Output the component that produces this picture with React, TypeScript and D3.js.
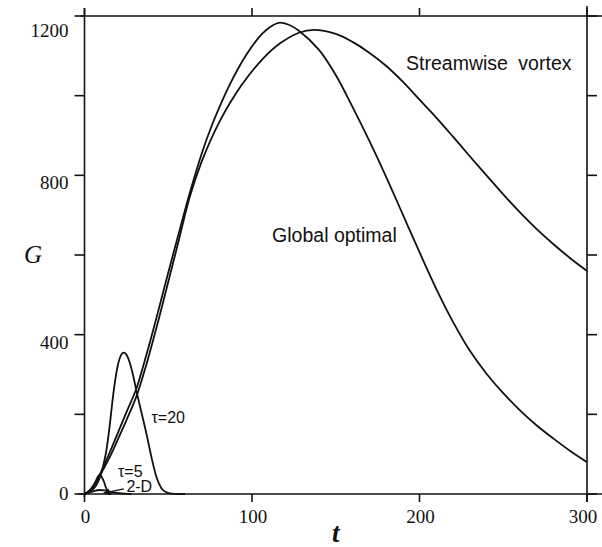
import React from "react";
import * as d3 from "d3";

// ---- data ----
const globalT = [0, 3, 6, 9, 15, 20, 25, 31, 37, 43, 49, 56, 63, 70, 76, 82, 87, 92, 97, 102, 106, 111, 116, 122, 128, 140, 150, 160, 170, 180, 190, 200, 210, 220, 230, 240, 250, 260, 270, 280, 290, 300];
const globalG = [0, 9, 26, 48, 104, 154, 205, 265, 350, 443, 540, 650, 758, 855, 925, 985, 1030, 1070, 1105, 1135, 1155, 1173, 1183, 1178, 1163, 1115, 1052, 972, 887, 797, 702, 607, 515, 432, 360, 302, 253, 210, 172, 139, 108, 80];

const vortexT = [0, 3, 6, 9, 15, 20, 25, 31, 37, 43, 49, 56, 63, 70, 80, 90, 97, 107, 117, 128, 137, 150, 160, 170, 180, 190, 200, 210, 220, 230, 240, 250, 260, 270, 280, 290, 300];
const vortexG = [0, 8, 24, 45, 92, 138, 185, 245, 326, 418, 516, 632, 748, 835, 930, 1003, 1045, 1095, 1132, 1158, 1165, 1155, 1135, 1108, 1075, 1035, 990, 945, 897, 848, 800, 752, 707, 665, 627, 592, 560];

const tau20T = [0, 4, 7, 9, 11, 13, 15, 16.7, 18.5, 20, 22, 23.4, 25, 27, 29, 31, 34, 37, 40, 43, 46, 49, 52, 56, 60];
const tau20G = [0, 8, 22, 40, 68, 108, 170, 234, 290, 325, 350, 355, 350, 330, 298, 259, 205, 151, 92, 42, 14, 4, 1, 0, 0];

const tau5T = [0, 2, 3.5, 5, 6.5, 8, 9, 10, 11.5, 13, 14.5, 16];
const tau5G = [0, 4, 9, 16, 30, 44, 48, 45, 32, 14, 3, 0];

const twoDT = [0, 3, 6, 9, 12, 15, 19, 24, 28];
const twoDG = [0, 4, 8, 10, 9, 6, 3, 1, 0];

const xTicks = [0, 100, 200, 300];
const yTicksMajor = [0, 400, 800, 1200];
const yTicksAll = [0, 200, 400, 600, 800, 1000, 1200];

const labels = [
  { text: "Streamwise vortex", t: 192, g: 1065, size: 19.5 },
  { text: "Global optimal", t: 112, g: 632, size: 19.5 },
  { text: "τ=20", t: 40, g: 178, size: 16 },
  { text: "τ=5", t: 20, g: 42, size: 16 },
  { text: "2-D", t: 25, g: 4, size: 16 },
];

const arrow2D = { t0: 23.5, g0: 13, t1: 11.5, g1: 2 };

const W = 602;
const H = 547;

export default function App() {
  const x = d3.scaleLinear().domain([0, 300]).range([84.5, 587]);
  const y = d3.scaleLinear().domain([0, 1200]).range([494, 16]);

  const mk = (ts: number[], gs: number[], curve: any) =>
    d3
      .line<number>()
      .x((_, i) => x(ts[i]))
      .y((_, i) => y(gs[i]))
      .curve(curve)(ts) || "";

  const series = [
    mk(globalT, globalG, d3.curveCatmullRom.alpha(0.5)),
    mk(vortexT, vortexG, d3.curveCatmullRom.alpha(0.5)),
    mk(tau20T, tau20G, d3.curveMonotoneX),
    mk(tau5T, tau5G, d3.curveMonotoneX),
    mk(twoDT, twoDG, d3.curveMonotoneX),
  ];

  const x0 = x(0), x1 = x(300), yb = y(0), yt = y(1200);
  const ax = { stroke: "#111", strokeWidth: 1.6, fill: "none" };

  const yLabelOffset = (v: number) => (v === 0 ? 6 : v === 1200 ? 21 : 14);

  return (
    <svg width={W} height={H} style={{ position: "absolute", left: 0, top: 0, background: "#fff" }}>
      <defs>
        <marker id="ah" viewBox="0 0 10 10" refX="9" refY="5" markerWidth="7" markerHeight="5" orient="auto">
          <path d="M0,0 L10,5 L0,10 z" fill="#111" />
        </marker>
      </defs>
      {/* frame */}
      <line x1={x0} y1={8} x2={x0} y2={yb + 3} {...ax} />
      <line x1={x1} y1={6} x2={x1} y2={yb + 8} {...ax} />
      <line x1={x0 - 4} y1={yt} x2={W} y2={yt} {...ax} />
      <line x1={x0 - 6} y1={yb} x2={W} y2={yb} {...ax} />
      {/* y ticks */}
      {yTicksAll.map((v) => (
        <g key={"yt" + v}>
          <line x1={x0 - 10} y1={y(v)} x2={x0} y2={y(v)} {...ax} />
          <line x1={x1} y1={y(v)} x2={x1 + 10} y2={y(v)} {...ax} />
        </g>
      ))}
      {/* x ticks */}
      {xTicks.map((v) => (
        <g key={"xt" + v}>
          <line x1={x(v)} y1={yb} x2={x(v)} y2={yb + 8} {...ax} />
          <line x1={x(v)} y1={yt - 8} x2={x(v)} y2={yt} {...ax} />
        </g>
      ))}
      {/* tick labels */}
      {yTicksMajor.map((v) => (
        <text
          key={"yl" + v}
          x={x0 - 16}
          y={y(v) + yLabelOffset(v)}
          textAnchor="end"
          fontFamily="'Liberation Serif', 'Times New Roman', serif"
          fontSize={19}
          fill="#111"
        >
          {v}
        </text>
      ))}
      {xTicks.map((v) => (
        <text
          key={"xl" + v}
          x={v === 300 ? x(v) - 4 : x(v) + 1}
          y={523}
          textAnchor="middle"
          fontFamily="'Liberation Serif', 'Times New Roman', serif"
          fontSize={19}
          fill="#111"
        >
          {v}
        </text>
      ))}
      {/* axis titles */}
      <text x={24} y={263} fontFamily="'Liberation Serif', 'Times New Roman', serif" fontStyle="italic" fontSize={25} fill="#111">
        G
      </text>
      <text x={332} y={542} fontFamily="'Liberation Serif', 'Times New Roman', serif" fontStyle="italic" fontWeight="bold" fontSize={27} fill="#111">
        t
      </text>
      {/* curves */}
      {series.map((d, i) => (
        <path key={"s" + i} d={d} fill="none" stroke="#111" strokeWidth={1.8} />
      ))}
      {/* labels */}
      {labels.map((l) => (
        <text
          key={l.text}
          x={x(l.t)}
          y={y(l.g)}
          fontFamily="'Liberation Sans', Arial, sans-serif"
          fontSize={l.size}
          wordSpacing={l.text === "Streamwise vortex" ? 5 : 0}
          fill="#111"
        >
          {l.text}
        </text>
      ))}
      <line
        x1={x(arrow2D.t0)}
        y1={y(arrow2D.g0)}
        x2={x(arrow2D.t1)}
        y2={y(arrow2D.g1)}
        stroke="#111"
        strokeWidth={1.3}
        markerEnd="url(#ah)"
      />
    </svg>
  );
}
